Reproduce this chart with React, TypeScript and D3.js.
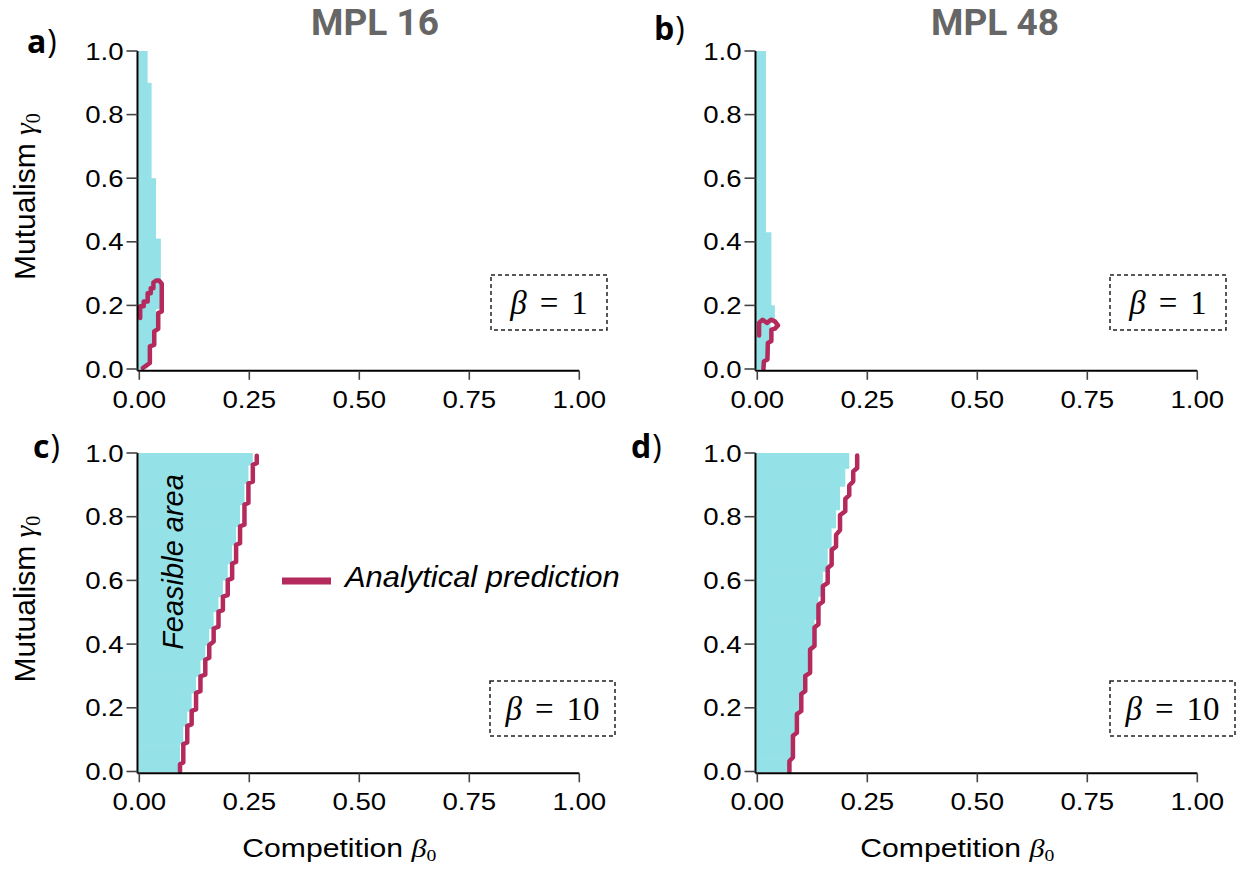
import React from "react";
import * as d3 from "d3";

// axis ticks
const xTicks = [0, 0.25, 0.5, 0.75, 1];
const yTicks = [0, 0.2, 0.4, 0.6, 0.8, 1];

// feasible area, rows of [gammaLow, gammaHigh, betaMax]
const feasibleA = [
  [0.9, 1.0, 0.019], [0.6, 0.9, 0.028], [0.41, 0.6, 0.038], [0.19, 0.41, 0.049],
  [0.176, 0.19, 0.038], [0.12, 0.176, 0.043], [0.07, 0.12, 0.033], [0.015, 0.07, 0.023], [0, 0.015, 0.012],
];
const feasibleB = [
  [0.43, 1.0, 0.0196], [0.2, 0.43, 0.032], [0.15, 0.2, 0.04], [0.09, 0.15, 0.03],
  [0.03, 0.09, 0.024], [0, 0.03, 0.014],
];
const feasibleC = [
  [0.963, 1.0, 0.258], [0.905, 0.963, 0.248], [0.838, 0.905, 0.239], [0.77, 0.838, 0.229],
  [0.712, 0.77, 0.22], [0.653, 0.712, 0.211], [0.601, 0.653, 0.201], [0.549, 0.601, 0.19],
  [0.502, 0.549, 0.18], [0.449, 0.502, 0.169], [0.397, 0.449, 0.159], [0.351, 0.397, 0.15],
  [0.299, 0.351, 0.139], [0.247, 0.299, 0.129], [0.19, 0.247, 0.119], [0.143, 0.19, 0.109],
  [0.086, 0.143, 0.1], [0.023, 0.086, 0.0925], [0, 0.023, 0.088],
];
const feasibleD = [
  [0.952, 1.0, 0.209], [0.896, 0.952, 0.2], [0.822, 0.896, 0.188], [0.765, 0.822, 0.179],
  [0.702, 0.765, 0.169], [0.629, 0.702, 0.16], [0.551, 0.629, 0.149], [0.478, 0.551, 0.139],
  [0.386, 0.478, 0.13], [0.31, 0.386, 0.12], [0.248, 0.31, 0.111], [0.185, 0.248, 0.1],
  [0.117, 0.185, 0.09], [0.039, 0.117, 0.081], [0, 0.039, 0.072],
];

// analytical prediction, [beta, gamma]
const predA = [
  [0.002, 0.16], [0.002, 0.197], [0.01, 0.197], [0.01, 0.212], [0.019, 0.212], [0.019, 0.238],
  [0.026, 0.238], [0.026, 0.254], [0.032, 0.254], [0.032, 0.272], [0.038, 0.278], [0.045, 0.278],
  [0.051, 0.268], [0.051, 0.181], [0.043, 0.176], [0.043, 0.126], [0.034, 0.118], [0.034, 0.076],
  [0.024, 0.071], [0.024, 0.019], [0.015, 0.01], [0.008, 0.003],
];
const predB = [
  [0.004, 0.105], [0.004, 0.145], [0.012, 0.155], [0.022, 0.145], [0.031, 0.155], [0.04, 0.15],
  [0.047, 0.137], [0.04, 0.127], [0.032, 0.124], [0.032, 0.088], [0.024, 0.082], [0.023, 0.03],
  [0.015, 0.024], [0.014, 0],
];
// stepped predictions, [beta, gammaLow, gammaHigh]
const predC = [
  [0.0925, 0, 0.023], [0.1, 0.028, 0.086], [0.109, 0.091, 0.143], [0.119, 0.148, 0.19],
  [0.129, 0.195, 0.247], [0.139, 0.252, 0.299], [0.15, 0.304, 0.351], [0.159, 0.357, 0.397],
  [0.169, 0.408, 0.449], [0.18, 0.455, 0.502], [0.19, 0.507, 0.549], [0.201, 0.554, 0.601],
  [0.211, 0.606, 0.653], [0.22, 0.658, 0.712], [0.229, 0.717, 0.77], [0.239, 0.775, 0.838],
  [0.248, 0.843, 0.905], [0.258, 0.91, 0.963], [0.267, 0.968, 0.991],
];
const predD = [
  [0.073, 0, 0.033], [0.081, 0.044, 0.112], [0.09, 0.122, 0.18], [0.1, 0.19, 0.243],
  [0.109, 0.253, 0.3], [0.12, 0.31, 0.383], [0.13, 0.394, 0.452], [0.139, 0.462, 0.523],
  [0.149, 0.533, 0.582], [0.16, 0.592, 0.639], [0.169, 0.649, 0.696], [0.179, 0.706, 0.743],
  [0.188, 0.758, 0.805], [0.2, 0.817, 0.856], [0.209, 0.868, 0.898], [0.218, 0.911, 0.942],
  [0.227, 0.953, 0.992],
];

const CYAN = "#94e2e8";
const RED = "#b42a5c";
const SANS = "'Liberation Sans', Arial, sans-serif";
const SERIF = "'Liberation Serif', 'DejaVu Serif', serif";

const stepsToPoints = (s: number[][]) => s.flatMap(([b, g0, g1]) => [[b, g0], [b, g1]]);

type PanelProps = {
  letter: string; lx: number; ly: number;
  x0: number; x1: number; yT: number; yB: number;
  feasible: number[][]; pred: number[][]; beta: string;
  box: [number, number, number, number];
  yLabel?: boolean; xLabel?: boolean;
};

const Panel = (p: PanelProps) => {
  const x = d3.scaleLinear().domain([0, 1]).range([p.x0, p.x1]);
  const y = d3.scaleLinear().domain([0, 1]).range([p.yB, p.yT]);
  const line = d3.line<number[]>().x(d => x(d[0])).y(d => y(d[1]));
  const axX = p.x0 - 1.8;
  const axY = p.yB + 1.8;
  const [bx, by, bw, bh] = p.box;
  return (
    <g>
      {p.feasible.map((r, i) => (
        <rect key={i} x={x(0) - 1} y={y(r[1])} width={x(r[2]) - x(0) + 1}
          height={y(r[0]) - y(r[1]) + 0.6} fill={CYAN} />
      ))}
      <path d={line(p.pred) || ""} fill="none" stroke={RED} strokeWidth={4.5}
        strokeLinejoin="round" strokeLinecap="round" />
      {/* axes */}
      <line x1={axX} x2={axX} y1={y(1)} y2={axY} stroke="#000" strokeWidth={2} />
      <line x1={axX} x2={x(1)} y1={axY} y2={axY} stroke="#000" strokeWidth={2} />
      {yTicks.map(t => (
        <g key={"y" + t}>
          <line x1={axX - 11} x2={axX} y1={y(t)} y2={y(t)} stroke="#444" strokeWidth={1.6} />
          <text transform={`translate(${axX - 14},${y(t) + 8.5}) scale(1.15,1)`} textAnchor="end"
            fontFamily={SANS} fontSize={24}>{d3.format(".1f")(t)}</text>
        </g>
      ))}
      {xTicks.map(t => (
        <g key={"x" + t}>
          <line x1={x(t)} x2={x(t)} y1={axY} y2={axY + 9} stroke="#444" strokeWidth={1.6} />
          <text transform={`translate(${x(t)},${axY + 37}) scale(1.15,1)`} textAnchor="middle"
            fontFamily={SANS} fontSize={24}>{d3.format(".2f")(t)}</text>
        </g>
      ))}
      {/* beta box */}
      <rect x={bx} y={by} width={bw} height={bh} fill="none" stroke="#222"
        strokeWidth={1.5} strokeDasharray="4 3" />
      <text x={bx + bw / 2} y={by + bh / 2 + 11} textAnchor="middle" fontFamily={SERIF} fontSize={33}>
        <tspan fontStyle="italic">β</tspan><tspan dx={13}>=</tspan><tspan dx={13}>{p.beta}</tspan>
      </text>
      {/* panel letter */}
      <text x={p.lx} y={p.ly} fontFamily="'Open Sans', sans-serif" fontSize={32}>
        <tspan fontWeight="bold">{p.letter}</tspan><tspan dx={1}>)</tspan>
      </text>
      {p.yLabel && (
        <text transform={`translate(35,${p.yB - 89}) rotate(-90)`} fontFamily={SANS} fontSize={30}>
          Mutualism <tspan fontFamily={SERIF} fontStyle="italic">γ</tspan>
          <tspan fontFamily={SERIF} fontSize={20} dy={5}>0</tspan>
        </text>
      )}
      {p.xLabel && (
        <text transform={`translate(${(p.x0 + p.x1) / 2 - 117},857) scale(1.16,1)`}
          fontFamily={SANS} fontSize={26}>
          Competition <tspan fontFamily={SERIF} fontStyle="italic">β</tspan>
          <tspan fontFamily={SERIF} fontSize={17} dy={4}>0</tspan>
        </text>
      )}
    </g>
  );
};

export default function App() {
  return (
    <svg width={1238} height={875} style={{ position: "absolute", left: 0, top: 0, background: "#fff" }}>
      <text x={375} y={34.5} textAnchor="middle" fontFamily="Roboto, sans-serif" fontWeight="bold"
        fontSize={37} fill="#666">MPL 16</text>
      <text x={995} y={34.5} textAnchor="middle" fontFamily="Roboto, sans-serif" fontWeight="bold"
        fontSize={37} fill="#666">MPL 48</text>
      <Panel letter="a" lx={27} ly={53} x0={139.3} x1={579.3} yT={51} yB={369}
        feasible={feasibleA} pred={predA} beta="1" box={[491, 275, 116, 55]} yLabel />
      <Panel letter="b" lx={654} ly={40} x0={757.3} x1={1197.3} yT={51} yB={369}
        feasible={feasibleB} pred={predB} beta="1" box={[1110, 275, 116, 55]} />
      <Panel letter="c" lx={33} ly={458} x0={139.3} x1={579.3} yT={453} yB={771.5}
        feasible={feasibleC} pred={stepsToPoints(predC)} beta="10" box={[490, 681, 125, 55]} yLabel xLabel />
      <Panel letter="d" lx={631} ly={458} x0={757.3} x1={1197.3} yT={453} yB={771.5}
        feasible={feasibleD} pred={stepsToPoints(predD)} beta="10" box={[1110, 681, 125, 55]} xLabel />
      {/* legend */}
      <line x1={282} x2={331} y1={581} y2={581} stroke={RED} strokeWidth={7} />
      <text transform="translate(345,587) scale(1.03,1)" fontFamily={SANS} fontStyle="italic"
        fontSize={30}>Analytical prediction</text>
      <text transform="translate(183,562) rotate(-90)" textAnchor="middle" fontFamily={SANS}
        fontStyle="italic" fontSize={29}>Feasible area</text>
    </svg>
  );
}
